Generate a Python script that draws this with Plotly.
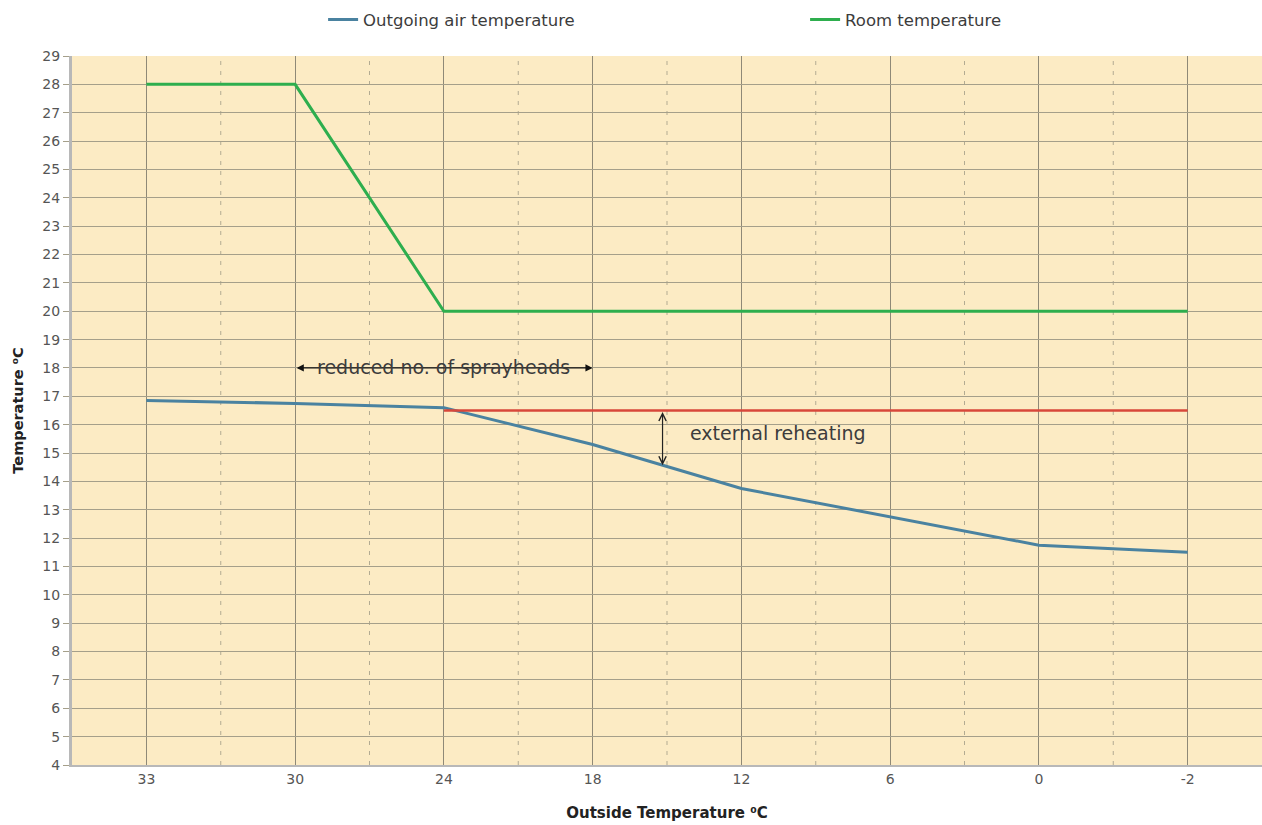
import plotly.graph_objects as go

# Outside temperature steps (category axis, left to right)
outside_temp = ["33", "30", "24", "18", "12", "6", "0", "-2"]

# Series values in degrees C
outgoing_air = [16.85, 16.75, 16.6, 15.3, 13.75, 12.75, 11.75, 11.5]
room_temp = [28, 28, 20, 20, 20, 20, 20, 20]

# Reheat set point, applied from 24 C downwards
reheat_x = ["24", "18", "12", "6", "0", "-2"]
reheat_level = [16.5, 16.5, 16.5, 16.5, 16.5, 16.5]

y_ticks = list(range(4, 30))

FONT = "DejaVu Sans"
TEXT = "#3c3c3c"
GRID = "#a59f8a"

fig = go.Figure()
fig.add_trace(go.Scatter(
    x=outside_temp, y=outgoing_air, mode="lines", name="Outgoing air temperature",
    line=dict(color="#4a82a0", width=3),
))
fig.add_trace(go.Scatter(
    x=outside_temp, y=room_temp, mode="lines", name="Room temperature",
    line=dict(color="#2eae4e", width=3),
))
fig.add_trace(go.Scatter(
    x=reheat_x, y=reheat_level, mode="lines", showlegend=False,
    line=dict(color="#d8473a", width=2.5),
))

# dashed separators halfway between category positions
shapes = []
for i in range(len(outside_temp) - 1):
    shapes.append(dict(
        type="line", xref="x", yref="paper", x0=i + 0.5, x1=i + 0.5, y0=0, y1=1,
        line=dict(color="#b3ab92", width=1, dash="4px,6px"), layer="below",
    ))

i30 = outside_temp.index("30")
i24 = outside_temp.index("24")
i18 = outside_temp.index("18")
i12 = outside_temp.index("12")
x_reheat = i18 + 0.47
y_low = outgoing_air[i18] + 0.47 * (outgoing_air[i12] - outgoing_air[i18])

annotations = [
    # horizontal double arrow spanning 30..18
    dict(x=i18, y=18, ax=i30, ay=18, xref="x", yref="y", axref="x", ayref="y",
         text="", showarrow=True, arrowhead=2, startarrowhead=2, arrowside="end+start",
         arrowsize=1.2, arrowwidth=1.2, arrowcolor="#111111"),
    dict(x=i24, y=18.05, xref="x", yref="y", text="reduced no. of sprayheads",
         showarrow=False, font=dict(family=FONT, size=19, color=TEXT)),
    # vertical double arrow showing reheating gap
    dict(x=x_reheat, y=y_low, ax=x_reheat, ay=reheat_level[0], xref="x", yref="y",
         axref="x", ayref="y", text="", showarrow=True, arrowhead=5, startarrowhead=5,
         arrowside="end+start", arrowsize=1.2, arrowwidth=1.2, arrowcolor="#222222"),
    dict(x=i18 + 0.64, y=15.7, xref="x", yref="y", text="external reheating",
         showarrow=False, xanchor="left", font=dict(family=FONT, size=19, color=TEXT)),
]

fig.update_layout(
    width=1262, height=825,
    margin=dict(l=72, r=0, t=56, b=60, autoexpand=False),
    paper_bgcolor="white",
    plot_bgcolor="#fcebc4",
    font=dict(family=FONT, color=TEXT),
    showlegend=True,
    legend=dict(orientation="h", x=0.211, y=1.051, xanchor="left", yanchor="middle",
                font=dict(family=FONT, size=16.5, color=TEXT), entrywidth=437,
                entrywidthmode="pixels", itemwidth=30, bgcolor="rgba(0,0,0,0)"),
    shapes=shapes,
    annotations=annotations,
)
fig.update_xaxes(
    type="category", range=[-0.5, len(outside_temp) - 0.5],
    showgrid=True, gridcolor="#8f8977", gridwidth=1,
    showline=True, linecolor="#b8b8b8", linewidth=2,
    ticks="", tickfont=dict(family=FONT, size=14, color="#555555"),
    title=dict(text="<b>Outside Temperature ⁰C</b>", font=dict(family=FONT, size=15, color="#222222"),
               standoff=22),
    zeroline=False,
)
fig.update_yaxes(
    range=[4, 29], tickvals=y_ticks, ticktext=[str(v) for v in y_ticks],
    showgrid=True, gridcolor=GRID, gridwidth=1,
    showline=True, linecolor="#b8b8b8", linewidth=3,
    ticks="outside", ticklen=6, tickcolor=GRID,
    tickfont=dict(family=FONT, size=14, color="#555555"),
    title=dict(text="<b>Temperature ⁰C</b>", font=dict(family=FONT, size=14.5, color="#222222"),
               standoff=16),
    zeroline=False,
)

fig.write_html("out.html")
